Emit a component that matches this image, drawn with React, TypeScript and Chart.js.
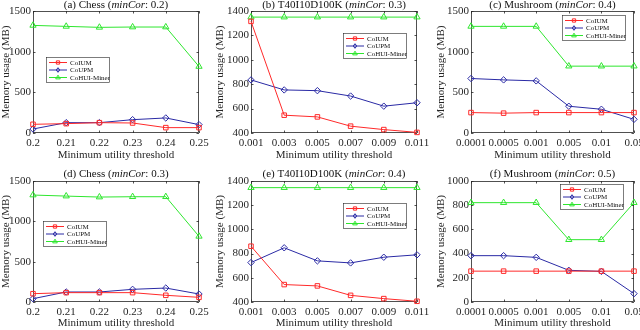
import React, { useEffect, useRef } from 'react';
import { Chart, registerables } from 'chart.js';

Chart.register(...registerables);

// ---------- data ----------
const seriesNames = ['CoIUM', 'CoUPM', 'CoHUI-Miner'];

const chessX = ['0.2', '0.21', '0.22', '0.23', '0.24', '0.25'];
const t40X = ['0.001', '0.003', '0.005', '0.007', '0.009', '0.011'];
const mushX = ['0.0001', '0.0005', '0.001', '0.005', '0.01', '0.05'];

// (a) Chess minCor 0.2
const chess02CoIUM = [107, 115, 127, 123, 66, 66];
const chess02CoUPM = [49, 127, 127, 164, 185, 103];
const chess02CoHUI = [1323, 1311, 1299, 1303, 1303, 818];

// (b) T40I10D100K minCor 0.3
const t40_03CoIUM = [1315, 546, 532, 456, 428, 405];
const t40_03CoUPM = [835, 753, 747, 703, 620, 648];
const t40_03CoHUI = [1350, 1350, 1350, 1350, 1350, 1350];

// (c) Mushroom minCor 0.4
const mush04CoIUM = [251, 244, 251, 251, 251, 251];
const mush04CoUPM = [670, 653, 641, 329, 292, 168];
const mush04CoHUI = [1311, 1311, 1311, 822, 822, 822];

// (d) Chess minCor 0.3
const chess03CoIUM = [103, 116, 116, 116, 83, 58];
const chess03CoUPM = [41, 124, 124, 157, 173, 99];
const chess03CoHUI = [1326, 1313, 1301, 1305, 1305, 814];

// (e) T40I10D100K minCor 0.4
const t40_04CoIUM = [861, 544, 533, 455, 428, 406];
const t40_04CoUPM = [726, 848, 740, 723, 770, 790];
const t40_04CoHUI = [1345, 1345, 1345, 1345, 1345, 1345];

// (f) Mushroom minCor 0.5
const mush05CoIUM = [255, 255, 255, 255, 255, 255];
const mush05CoUPM = [383, 383, 369, 262, 253, 69];
const mush05CoHUI = [821, 821, 821, 515, 515, 821];

// ---------- styles ----------
const SERIF = "'Liberation Serif', 'Times New Roman', serif";
const AXIS = '#262626';
const seriesColors = ['#ff2a2a', '#2a2aa5', '#2ee62e'];
const seriesPoint = ['rect', 'rectRot', 'triangle'];
const seriesRadius = [3.2, 3.2, 3.6];

const cols = [
  { left: 0, width: 225, yw: 33, rp: 26, ytPad: 0, tickSize: 11 },
  { left: 212, width: 228, yw: 39, rp: 23, ytPad: 1.4, tickSize: 11 },
  { left: 425, width: 215, yw: 46, rp: 6, ytPad: 9.4, tickSize: 11 },
];
const rows = [
  { top: 0, height: 165, tp: 11, xh: 32, xtPad: 3.4, titleOff: 6 },
  { top: 165, height: 165, tp: 16, xh: 28, xtPad: 0.4, titleOff: 7 },
];

type PanelCfg = {
  letter: string;
  name: string;
  minCor: string;
  labels: string[];
  values: number[][];
  yMin: number;
  yMax: number;
  yStep: number;
  col: number;
  row: number;
  legend: [number, number];
};

const panels: PanelCfg[] = [
  { letter: '(a)', name: 'Chess', minCor: '0.2', labels: chessX, values: [chess02CoIUM, chess02CoUPM, chess02CoHUI], yMin: 0, yMax: 1500, yStep: 500, col: 0, row: 0, legend: [13, 46] },
  { letter: '(b)', name: 'T40I10D100K', minCor: '0.3', labels: t40X, values: [t40_03CoIUM, t40_03CoUPM, t40_03CoHUI], yMin: 400, yMax: 1400, yStep: 200, col: 1, row: 0, legend: [92, 22] },
  { letter: '(c)', name: 'Mushroom', minCor: '0.4', labels: mushX, values: [mush04CoIUM, mush04CoUPM, mush04CoHUI], yMin: 0, yMax: 1500, yStep: 500, col: 2, row: 0, legend: [91, 4] },
  { letter: '(d)', name: 'Chess', minCor: '0.3', labels: chessX, values: [chess03CoIUM, chess03CoUPM, chess03CoHUI], yMin: 0, yMax: 1500, yStep: 500, col: 0, row: 1, legend: [10, 40] },
  { letter: '(e)', name: 'T40I10D100K', minCor: '0.4', labels: t40X, values: [t40_04CoIUM, t40_04CoUPM, t40_04CoHUI], yMin: 400, yMax: 1400, yStep: 200, col: 1, row: 1, legend: [92, 22] },
  { letter: '(f)', name: 'Mushroom', minCor: '0.5', labels: mushX, values: [mush05CoIUM, mush05CoUPM, mush05CoHUI], yMin: 0, yMax: 1000, yStep: 200, col: 2, row: 1, legend: [89, 3] },
];

function drawMarker(ctx: CanvasRenderingContext2D, style: string, x: number, y: number, r: number, color: string) {
  ctx.save();
  ctx.strokeStyle = color;
  ctx.lineWidth = 1;
  ctx.beginPath();
  if (style === 'rect') {
    const s = Math.SQRT1_2 * r;
    ctx.rect(x - s, y - s, 2 * s, 2 * s);
  } else if (style === 'rectRot') {
    ctx.moveTo(x, y - r);
    ctx.lineTo(x + r * 0.75, y);
    ctx.lineTo(x, y + r);
    ctx.lineTo(x - r * 0.75, y);
    ctx.closePath();
  } else {
    ctx.moveTo(x, y - r);
    ctx.lineTo(x + r * 1.0, y + r * 0.6);
    ctx.lineTo(x - r * 1.0, y + r * 0.6);
    ctx.closePath();
  }
  ctx.stroke();
  ctx.restore();
}

function Panel({ cfg }: { cfg: PanelCfg }) {
  const ref = useRef<HTMLCanvasElement | null>(null);
  const col = cols[cfg.col];
  const row = rows[cfg.row];

  useEffect(() => {
    if (!ref.current) return;

    const framePlugin = {
      id: 'frame',
      beforeDatasetsDraw(chart: any) {
        const { ctx, chartArea: ca } = chart;
        const xs = chart.scales.x;
        const ys = chart.scales.y;
        ctx.save();
        ctx.strokeStyle = AXIS;
        ctx.lineWidth = 0.8;
        ctx.strokeRect(ca.left + 0.5, ca.top + 0.5, ca.right - ca.left - 1, ca.bottom - ca.top - 1);
        ctx.beginPath();
        const tl = 2.5;
        xs.ticks.forEach((_t: any, i: number) => {
          const px = Math.round(xs.getPixelForTick(i)) + 0.5;
          ctx.moveTo(px, ca.bottom);
          ctx.lineTo(px, ca.bottom - tl);
          ctx.moveTo(px, ca.top);
          ctx.lineTo(px, ca.top + tl);
        });
        ys.ticks.forEach((t: any) => {
          const py = Math.round(ys.getPixelForValue(t.value)) + 0.5;
          ctx.moveTo(ca.left, py);
          ctx.lineTo(ca.left + tl, py);
          ctx.moveTo(ca.right, py);
          ctx.lineTo(ca.right - tl, py);
        });
        ctx.stroke();
        ctx.restore();
      },
    };

    const titlePlugin = {
      id: 'panelTitle',
      afterDraw(chart: any) {
        const { ctx, chartArea: ca } = chart;
        const parts = [
          { t: `${cfg.letter} ${cfg.name} (`, it: false },
          { t: 'minCor', it: true },
          { t: `: ${cfg.minCor})`, it: false },
        ];
        const size = 11;
        ctx.save();
        ctx.fillStyle = '#111';
        ctx.textBaseline = 'middle';
        ctx.textAlign = 'left';
        let total = 0;
        const widths = parts.map((p) => {
          ctx.font = `${p.it ? 'italic ' : ''}${size}px ${SERIF}`;
          const w = ctx.measureText(p.t).width;
          total += w;
          return w;
        });
        let x = (ca.left + ca.right) / 2 - total / 2;
        const y = ca.top - row.titleOff;
        parts.forEach((p, i) => {
          ctx.font = `${p.it ? 'italic ' : ''}${size}px ${SERIF}`;
          ctx.fillText(p.t, x, y);
          x += widths[i];
        });
        ctx.restore();
      },
    };

    const legendPlugin = {
      id: 'boxLegend',
      afterDraw(chart: any) {
        const { ctx, chartArea: ca } = chart;
        const bx = ca.left + cfg.legend[0];
        const by = ca.top + cfg.legend[1];
        const bw = 64;
        const bh = 26;
        ctx.save();
        ctx.fillStyle = '#ffffff';
        ctx.fillRect(bx, by, bw, bh);
        ctx.strokeStyle = AXIS;
        ctx.lineWidth = 0.6;
        ctx.strokeRect(bx + 0.5, by + 0.5, bw - 1, bh - 1);
        chart.data.datasets.forEach((ds: any, i: number) => {
          const y = by + 5.5 + i * 7.5;
          ctx.strokeStyle = ds.borderColor;
          ctx.lineWidth = 1;
          ctx.beginPath();
          ctx.moveTo(bx + 3, y);
          ctx.lineTo(bx + 21, y);
          ctx.stroke();
          drawMarker(ctx, ds.pointStyle, bx + 12, y, 2.3, ds.borderColor);
          ctx.fillStyle = '#111';
          ctx.font = `7px ${SERIF}`;
          ctx.textBaseline = 'middle';
          ctx.textAlign = 'left';
          ctx.fillText(ds.label, bx + 24, y + 0.5);
        });
        ctx.restore();
      },
    };

    const chart = new Chart(ref.current, {
      type: 'line',
      data: {
        labels: cfg.labels,
        datasets: cfg.values.map((vals, i) => ({
          label: seriesNames[i],
          data: vals,
          borderColor: seriesColors[i],
          backgroundColor: seriesColors[i],
          borderWidth: 1,
          pointStyle: seriesPoint[i],
          pointRadius: seriesRadius[i],
          pointBorderWidth: 1,
          pointBorderColor: seriesColors[i],
          pointBackgroundColor: 'rgba(255,255,255,0)',
          tension: 0,
          fill: false,
          clip: false,
        })),
      },
      options: {
        responsive: false,
        animation: false,
        devicePixelRatio: 1,
        layout: { padding: { left: 0, right: col.rp, top: row.tp, bottom: 0 } },
        plugins: {
          legend: { display: false },
          tooltip: { enabled: false },
          title: { display: false },
        },
        scales: {
          x: {
            type: 'category',
            offset: false,
            grid: { display: false, drawTicks: false },
            border: { display: false },
            ticks: {
              color: AXIS,
              font: { family: SERIF, size: col.tickSize },
              padding: 4,
              autoSkip: false,
              maxRotation: 0,
              minRotation: 0,
            },
            title: {
              display: true,
              text: 'Minimum utility threshold',
              color: AXIS,
              font: { family: SERIF, size: 11 },
              padding: { top: 0, bottom: row.xtPad },
            },
            afterFit(scale: any) {
              scale.height = row.xh;
              scale.paddingLeft = 0;
              scale.paddingRight = 0;
            },
          },
          y: {
            type: 'linear',
            min: cfg.yMin,
            max: cfg.yMax,
            grid: { display: false, drawTicks: false },
            border: { display: false },
            ticks: {
              stepSize: cfg.yStep,
              color: AXIS,
              font: { family: SERIF, size: col.tickSize },
              padding: 2,
              callback: (v: any) => String(v),
            },
            title: {
              display: true,
              text: 'Memory usage (MB)',
              color: AXIS,
              font: { family: SERIF, size: 11 },
              padding: { top: col.ytPad, bottom: 0 },
            },
            afterFit(scale: any) {
              scale.width = col.yw;
              scale.paddingTop = 0;
              scale.paddingBottom = 0;
            },
          },
        },
      },
      plugins: [framePlugin, titlePlugin, legendPlugin],
    } as any);

    return () => chart.destroy();
  }, [cfg]);

  return (
    <canvas
      ref={ref}
      width={col.width}
      height={row.height}
      style={{ position: 'absolute', left: col.left, top: row.top, width: col.width, height: row.height }}
    />
  );
}

export default function App() {
  return (
    <div style={{ position: 'absolute', left: 0, top: 0, width: 640, height: 330, overflow: 'hidden', background: '#fff' }}>
      {panels.map((p, i) => (
        <Panel key={i} cfg={p} />
      ))}
    </div>
  );
}
